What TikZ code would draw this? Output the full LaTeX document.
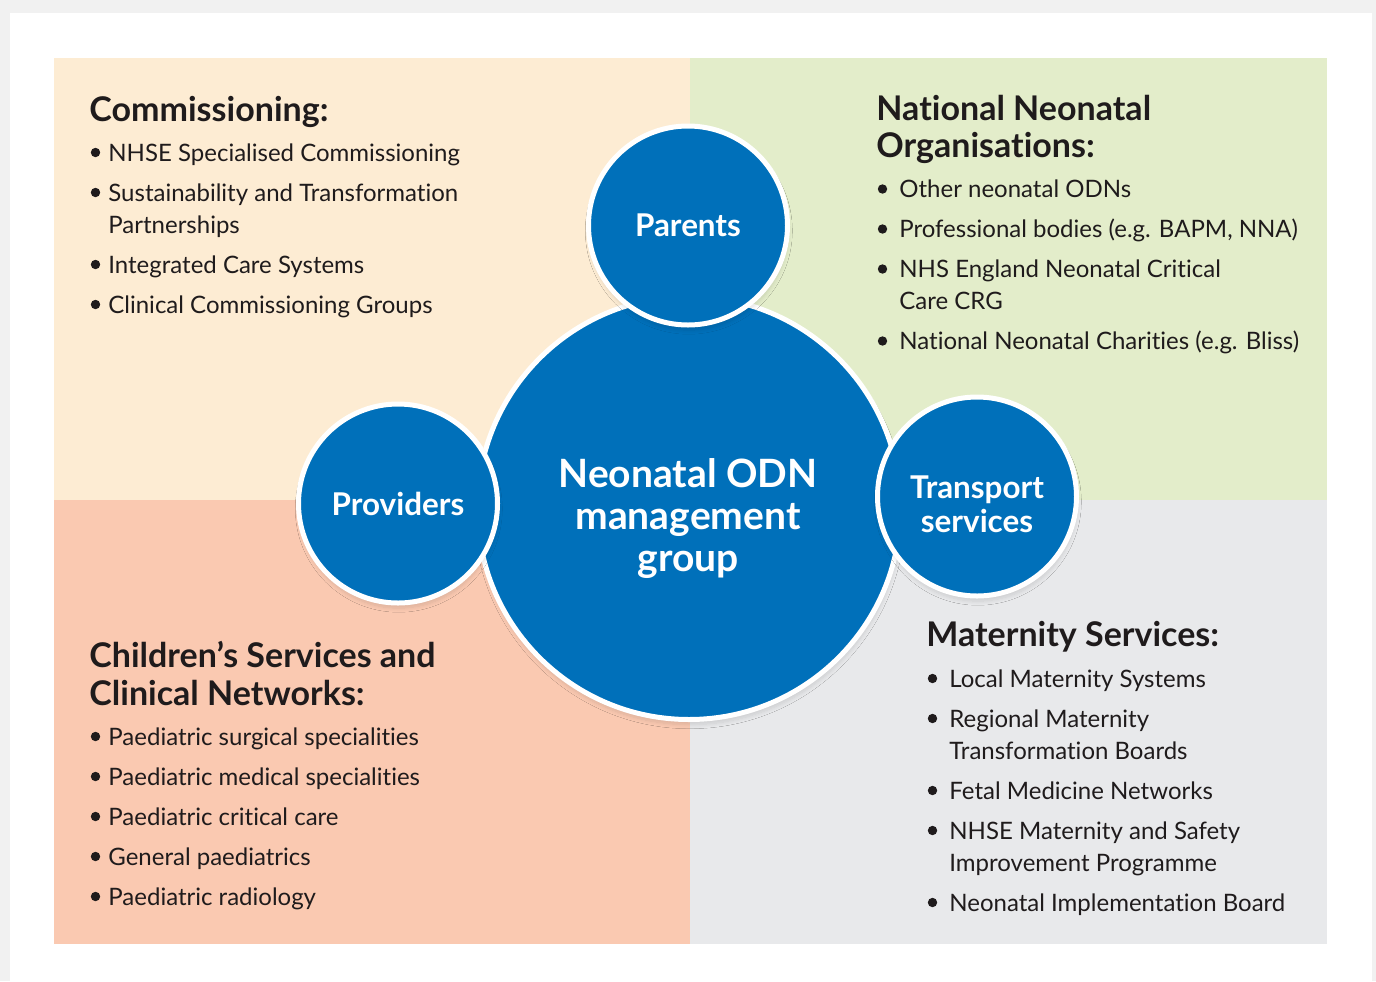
\documentclass[tikz,border=0pt]{standalone}
\usepackage{fontspec}
\setmainfont{Lato}[RawFeature={-liga;-dlig}]
\usetikzlibrary{shadows.blur}

\definecolor{odnblue}{HTML}{0070BA}
\definecolor{inkdark}{HTML}{1F1B1C}
\definecolor{peach}{HTML}{FDECD3}
\definecolor{sage}{HTML}{E3EDCA}
\definecolor{salmon}{HTML}{FAC9B1}
\definecolor{mist}{HTML}{E8E9EB}
\definecolor{backdrop}{HTML}{F1F1F1}

\tikzset{
  hub/.style={circle, fill=odnblue, draw=white, line width=2.5pt, inner sep=0pt,
    blur shadow={shadow xshift=0.4pt, shadow yshift=-2.6pt, shadow blur radius=2pt,
      shadow blur steps=10, shadow opacity=12}},
  hublabel/.style={anchor=base, text=white, inner sep=0pt, font=\bfseries\fontsize{15.7}{17}\selectfont},
  corelabel/.style={anchor=base, text=white, inner sep=0pt, font=\bfseries\fontsize{19.5}{21}\selectfont},
  heading/.style={anchor=base west, text=inkdark, inner sep=0pt, font=\bfseries\fontsize{17}{19}\selectfont},
  item/.style={anchor=base west, text=inkdark, inner sep=0pt, font=\fontsize{12}{16}\selectfont},
  dot/.style={circle, fill=inkdark, inner sep=0pt, minimum size=4.7pt},
}

\begin{document}
\begin{tikzpicture}[x=0.5pt, y=-0.5pt]
  \useasboundingbox (0,0) rectangle (1376,981);

  % page card
  \fill[backdrop] (0,0) rectangle (1376,981);
  \fill[white] (10,13) rectangle (1372,981);

  % four coloured panels
  \fill[peach]  (54,58)   rectangle (690,500);
  \fill[sage]   (690,58)  rectangle (1327,500);
  \fill[salmon] (54,500)  rectangle (690,944);
  \fill[mist]   (690,500) rectangle (1327,944);

  % circles
  \node[hub, minimum size=211.5pt] (core) at (689,508) {};
  \node[hub, minimum size=99.5pt] (parents) at (688,225.5) {};
  \node[hub, minimum size=99.5pt] (providers) at (398,503.5) {};
  \node[hub, minimum size=99.5pt] (transport) at (977,496.5) {};

  \node[corelabel] (core1) at (688,487) {Neonatal ODN};
  \node[corelabel] (core2) at (688,529) {management};
  \node[corelabel] (core3) at (688,571) {group};

  \node[hublabel] (parentsT) at (688,236.5) {Parents};
  \node[hublabel] (providersT) at (398,515) {Providers};
  \node[hublabel] (transport1) at (977,498) {Transport};
  \node[hublabel] (transport2) at (977,532) {services};

  % Commissioning
  \node[heading] (comH) at (89,121) {Commissioning:};
  \node[dot] (comB1) at (95.5,152.5) {};
  \node[item] (com1) at (108,161) {NHSE Specialised Commissioning};
  \node[dot] (comB2) at (95.5,192.5) {};
  \node[item] (com2) at (108,201) {Sustainability and Transformation};
  \node[item] (com2b) at (108,233) {Partnerships};
  \node[dot] (comB3) at (95.5,264.5) {};
  \node[item] (com3) at (108,273) {Integrated Care Systems};
  \node[dot] (comB4) at (95.5,304.5) {};
  \node[item] (com4) at (108,313) {Clinical Commissioning Groups};

  % National Neonatal Organisations
  \node[heading] (natH1) at (876,120) {National Neonatal};
  \node[heading] (natH2) at (876,157) {Organisations:};
  \node[dot] (natB1) at (882.5,189) {};
  \node[item] (nat1) at (899,197.5) {Other neonatal ODNs};
  \node[dot] (natB2) at (882.5,229) {};
  \node[item] (nat2) at (899,237.5) {Professional bodies (e.g. BAPM, NNA)};
  \node[dot] (natB3) at (882.5,269) {};
  \node[item] (nat3) at (899,277.5) {NHS England Neonatal Critical};
  \node[item] (nat3b) at (899,309.5) {Care CRG};
  \node[dot] (natB4) at (882.5,341) {};
  \node[item] (nat4) at (899,349.5) {National Neonatal Charities (e.g. Bliss)};

  % Children's Services and Clinical Networks
  \node[heading] (chiH1) at (89,667) {Children’s Services and};
  \node[heading] (chiH2) at (89,705) {Clinical Networks:};
  \node[dot] (chiB1) at (95.5,736.5) {};
  \node[item] (chi1) at (108,745) {Paediatric surgical specialities};
  \node[dot] (chiB2) at (95.5,776.5) {};
  \node[item] (chi2) at (108,785) {Paediatric medical specialities};
  \node[dot] (chiB3) at (95.5,816.5) {};
  \node[item] (chi3) at (108,825) {Paediatric critical care};
  \node[dot] (chiB4) at (95.5,856.5) {};
  \node[item] (chi4) at (108,865) {General paediatrics};
  \node[dot] (chiB5) at (95.5,896.5) {};
  \node[item] (chi5) at (108,905) {Paediatric radiology};

  % Maternity Services
  \node[heading] (matH) at (926,646) {Maternity Services:};
  \node[dot] (matB1) at (932.5,678.5) {};
  \node[item] (mat1) at (949,687) {Local Maternity Systems};
  \node[dot] (matB2) at (932.5,718.5) {};
  \node[item] (mat2) at (949,727) {Regional Maternity};
  \node[item] (mat2b) at (949,759) {Transformation Boards};
  \node[dot] (matB3) at (932.5,790.5) {};
  \node[item] (mat3) at (949,799) {Fetal Medicine Networks};
  \node[dot] (matB4) at (932.5,830.5) {};
  \node[item] (mat4) at (949,839) {NHSE Maternity and Safety};
  \node[item] (mat4b) at (949,871) {Improvement Programme};
  \node[dot] (matB5) at (932.5,902.5) {};
  \node[item] (mat5) at (949,911) {Neonatal Implementation Board};
\end{tikzpicture}
\end{document}
